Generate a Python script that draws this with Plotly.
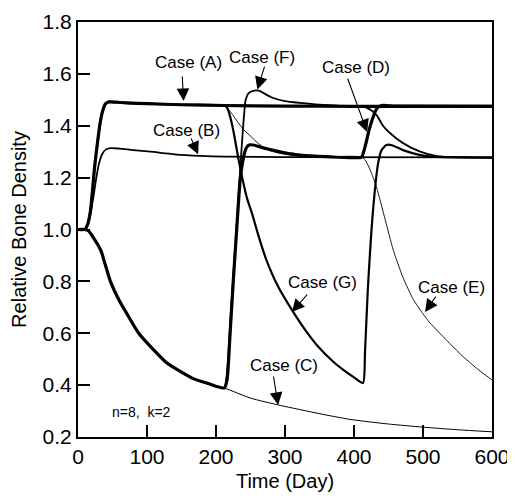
import plotly.graph_objects as go

# ---- data (time in days, relative bone density) ----
# Case A: loading level A throughout
A_t = [0, 10, 14, 18, 21, 24, 28, 32, 36, 40, 45, 55, 70, 100, 150, 212, 300, 400, 600]
A_v = [1.0, 1.0, 1.02, 1.07, 1.15, 1.24, 1.33, 1.41, 1.46, 1.485, 1.492, 1.491, 1.488, 1.485, 1.481, 1.478, 1.476, 1.475, 1.475]

# Case B: loading level B throughout
B_t = [0, 10, 14, 18, 22, 26, 30, 35, 40, 47, 60, 80, 105, 140, 177, 212, 300, 600]
B_v = [1.0, 1.0, 1.02, 1.06, 1.12, 1.19, 1.25, 1.29, 1.308, 1.314, 1.312, 1.306, 1.30, 1.29, 1.284, 1.281, 1.279, 1.278]

# Case C: disuse throughout
C_t = [0, 10, 15, 22, 33, 40, 47, 60, 72, 88, 110, 129, 150, 167, 190, 212, 250, 293, 350, 394, 450, 500, 550, 600]
C_v = [1.0, 1.0, 0.995, 0.97, 0.92, 0.86, 0.80, 0.725, 0.67, 0.60, 0.535, 0.485, 0.45, 0.425, 0.405, 0.389, 0.35, 0.322, 0.29, 0.268, 0.25, 0.238, 0.228, 0.22]

# Case D: C -> B -> A (after day ~212)
D_t_after = [216, 220, 225, 230, 235, 240, 244, 248, 256, 265, 280, 298, 322, 360, 411, 414, 418, 422, 426, 430, 434, 440, 460, 600]
D_v_after = [0.42, 0.58, 0.80, 1.00, 1.19, 1.28, 1.315, 1.326, 1.325, 1.317, 1.307, 1.297, 1.287, 1.281, 1.279, 1.30, 1.34, 1.385, 1.42, 1.45, 1.47, 1.478, 1.476, 1.475]

# Case E: A -> B -> C (after day ~212)
E_t_after = [216, 222, 230, 240, 250, 262, 274, 290, 312, 350, 412, 418, 425, 433, 445, 457, 471, 486, 500, 510, 539, 558, 580, 600]
E_v_after = [1.47, 1.45, 1.42, 1.385, 1.36, 1.33, 1.31, 1.295, 1.285, 1.28, 1.279, 1.26, 1.22, 1.16, 1.04, 0.92, 0.815, 0.73, 0.675, 0.64, 0.56, 0.51, 0.46, 0.42]

# Case F: C -> A -> B (after day ~212)
F_t_after = [216, 222, 230, 236, 240, 243, 247, 255, 262, 280, 300, 322, 350, 380, 412, 418, 426, 433, 442, 452, 471, 496, 520, 560, 600]
F_v_after = [0.45, 0.70, 1.02, 1.27, 1.42, 1.50, 1.525, 1.535, 1.535, 1.51, 1.495, 1.488, 1.481, 1.477, 1.475, 1.47, 1.458, 1.44, 1.40, 1.372, 1.333, 1.30, 1.283, 1.278, 1.277]

# Case G: A -> C -> B (after day ~212)
G_t_after = [216, 220, 225, 232, 238, 245, 252, 260, 272, 290, 310, 330, 346, 370, 385, 400, 413, 416, 420, 428, 435, 440, 447, 455, 471, 496, 520, 560, 600]
G_v_after = [1.47, 1.44, 1.383, 1.28, 1.20, 1.12, 1.064, 0.99, 0.89, 0.78, 0.69, 0.61, 0.555, 0.49, 0.458, 0.43, 0.408, 0.53, 0.767, 1.087, 1.256, 1.306, 1.326, 1.325, 1.306, 1.287, 1.28, 1.278, 1.277]

SWITCH = 212


def before(ts, vs):
    pairs = [(t, v) for t, v in zip(ts, vs) if t <= SWITCH]
    return [p[0] for p in pairs], [p[1] for p in pairs]


At0, Av0 = before(A_t, A_v)
Ct0, Cv0 = before(C_t, C_v)

curves = {
    "C": (C_t, C_v, 1.0),
    "E": (At0 + E_t_after, Av0 + E_v_after, 0.9),
    "B": (B_t, B_v, 1.8),
    "F": (Ct0 + F_t_after, Cv0 + F_v_after, 1.8),
    "G": (At0 + G_t_after, Av0 + G_v_after, 2.2),
    "A": (A_t, A_v, 3.2),
    "D": (Ct0 + D_t_after, Cv0 + D_v_after, 3.2),
}

fig = go.Figure()
for name, (ts, vs, w) in curves.items():
    fig.add_trace(go.Scatter(
        x=ts, y=vs, mode="lines", name="Case (%s)" % name,
        line=dict(color="black", width=w, shape="spline", smoothing=0.6),
        showlegend=False, hoverinfo="skip",
    ))

FONT = "Liberation Sans, Arial, Helvetica, sans-serif"

labels = [
    # text, text_x, text_y, tail_x, tail_y, tip_x, tip_y
    ("Case (A)", 160, 1.642, 151, 1.596, 153, 1.495),
    ("Case (B)", 157, 1.383, 163, 1.357, 174, 1.29),
    ("Case (F)", 266, 1.665, 271, 1.634, 260, 1.54),
    ("Case (D)", 403, 1.626, 390, 1.588, 419, 1.376),
    ("Case (G)", 354, 0.794, 334, 0.755, 310, 0.682),
    ("Case (E)", 542, 0.778, 520, 0.747, 503, 0.682),
    ("Case (C)", 298, 0.474, 283, 0.439, 290, 0.323),
]
for txt, tx, ty, ax_, ay_, px_, py_ in labels:
    fig.add_annotation(x=tx, y=ty, text=txt, showarrow=False,
                       font=dict(family=FONT, size=17, color="black"))
    fig.add_annotation(x=px_, y=py_, ax=ax_, ay=ay_, axref="x", ayref="y",
                       text="", showarrow=True, arrowhead=2, arrowsize=2.3,
                       arrowwidth=1.1, arrowcolor="black", standoff=0, startstandoff=0)

fig.add_annotation(x=92, y=0.296, text="n=8,  k=2", showarrow=False,
                   font=dict(family=FONT, size=14, color="black"))

# the page body adds an 8px margin, so the figure is offset by 8px inside the window
fig.update_layout(
    width=507, height=484,
    margin=dict(l=70, r=23, t=14, b=55),
    paper_bgcolor="white", plot_bgcolor="white",
    font=dict(family=FONT, color="black"),
    xaxis=dict(range=[0, 600], tickvals=[0, 100, 200, 300, 400, 500, 600],
               ticks="inside", ticklen=12, tickwidth=1.5, tickcolor="black",
               showline=True, linecolor="black", linewidth=2, mirror=True,
               showgrid=False, zeroline=False, automargin=False,
               ticklabeloverflow="allow",
               tickfont=dict(size=21, family=FONT),
               title=dict(text="Time (Day)", font=dict(size=20, family=FONT))),
    yaxis=dict(range=[0.2, 1.8], tickvals=[0.2, 0.4, 0.6, 0.8, 1.0, 1.2, 1.4, 1.6, 1.8],
               tickformat=".1f",
               ticks="inside", ticklen=12, tickwidth=1.5, tickcolor="black",
               showline=True, linecolor="black", linewidth=2, mirror=True,
               showgrid=False, zeroline=False, automargin=False,
               tickfont=dict(size=21, family=FONT),
               title=dict(text="Relative Bone Density", font=dict(size=20, family=FONT))),
)

fig.write_html("out.html")
